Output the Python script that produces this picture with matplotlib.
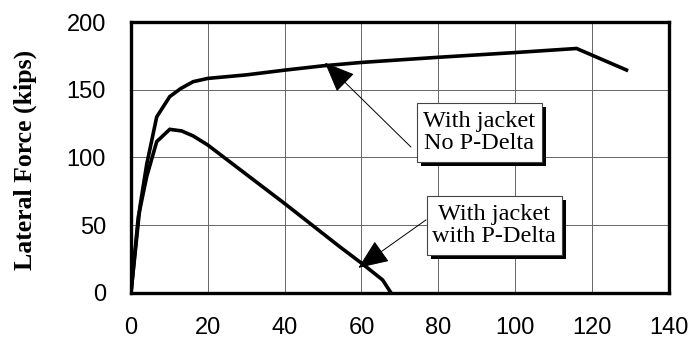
import matplotlib
matplotlib.use("Agg")
import matplotlib.pyplot as plt
from matplotlib.patches import Rectangle
from matplotlib.transforms import offset_copy

# pushover curves, jacketed column
disp_nopd = [0, 2.3, 4.1, 6.7, 10.1, 13.0, 16.2, 20, 30, 40, 50, 60, 80, 100, 116, 129]
force_nopd = [0, 63, 95, 130, 145, 151, 156, 158.4, 161, 164.5, 167.7, 170.2, 174, 177.5, 180.5, 164.6]

disp_pd = [0, 1.9, 4.1, 6.7, 10.1, 13.2, 16.2, 20, 40, 54.3, 60, 65.5, 67.7]
force_pd = [0, 56, 86, 111.7, 120.8, 119.6, 115.9, 109.2, 66, 34.2, 22, 9.6, 0]

xticks = [0, 20, 40, 60, 80, 100, 120, 140]
yticks = [0, 50, 100, 150, 200]

label_nopd = "With jacket\nNo P-Delta"
label_pd = "With jacket\nwith P-Delta"

fig = plt.figure(figsize=(6.93, 3.45), dpi=100)
ax = fig.add_axes([0.189, 0.151, 0.776, 0.785])

ax.plot(disp_nopd, force_nopd, color="black", lw=2.6, solid_joinstyle="miter", zorder=3)
ax.plot(disp_pd, force_pd, color="black", lw=2.6, solid_joinstyle="miter", zorder=3)

ax.set_xlim(0, 140)
ax.set_ylim(0, 200)
ax.set_xticks(xticks)
ax.set_yticks(yticks)
ax.grid(True, color="#666666", lw=0.7, zorder=0)
ax.tick_params(axis="x", length=0, pad=17, labelsize=17)
ax.tick_params(axis="y", length=0, pad=18, labelsize=17)
for lab in ax.get_xticklabels() + ax.get_yticklabels():
    lab.set_fontfamily("Liberation Sans")
for sp in ax.spines.values():
    sp.set_linewidth(2.4)

ax.set_ylabel("Lateral Force (kips)", fontfamily="Liberation Serif",
              fontweight="bold", fontsize=18.5)
ax.yaxis.set_label_coords(-0.175, 0.49)

# labelled boxes with drop shadow
def shadow_box(x0, y0, x1, y1, text):
    sh = offset_copy(ax.transData, fig=fig, x=4, y=-4, units="dots")
    ax.add_patch(Rectangle((x0, y0), x1 - x0, y1 - y0, facecolor="black",
                           edgecolor="none", transform=sh, zorder=4))
    ax.add_patch(Rectangle((x0, y0), x1 - x0, y1 - y0, facecolor="white",
                           edgecolor="#444444", lw=0.8, zorder=5))
    ax.text((x0 + x1) / 2, (y0 + y1) / 2, text, ha="center", va="center",
            fontfamily="Liberation Serif", fontsize=17.5, linespacing=1.1,
            zorder=6)

shadow_box(74.4, 96.7, 107.0, 140.2, label_nopd)
shadow_box(77.0, 28.0, 112.2, 71.6, label_pd)

arrow = dict(arrowstyle="-|>,head_length=1.2,head_width=0.5", color="black",
             lw=0.7, mutation_scale=16, shrinkA=0, shrinkB=0)
ax.annotate("", xy=(50.5, 170), xytext=(72.9, 107.7), arrowprops=arrow, zorder=4)
ax.annotate("", xy=(59.2, 18.5), xytext=(76.8, 53.9), arrowprops=arrow, zorder=4)

fig.savefig("out.png", dpi=100)
